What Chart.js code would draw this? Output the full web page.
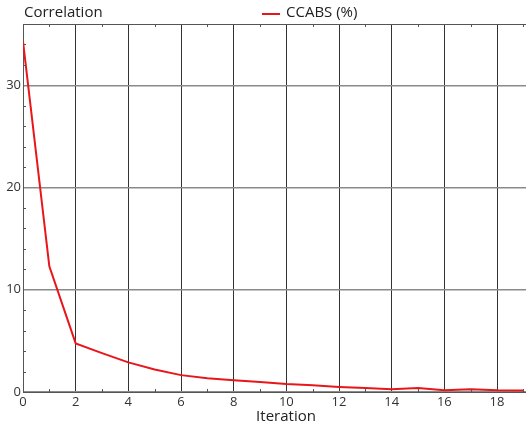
<!DOCTYPE html>
<html>
<head>
<meta charset="utf-8">
<script src="https://cdn.jsdelivr.net/npm/chart.js@4.4.1/dist/chart.umd.min.js"></script>
<style>
  html, body { margin: 0; padding: 0; background: #fff; }
  #wrap { width: 526px; height: 426px; }
</style>
</head>
<body>
<div id="wrap"><canvas id="chart" width="526" height="426"></canvas></div>
<script>
const iterations = [0, 1, 2, 3, 4, 5, 6, 7, 8, 9, 10, 11, 12, 13, 14, 15, 16, 17, 18, 19];
const ccabs = [34.3, 12.3, 4.75, 3.8, 2.9, 2.2, 1.65, 1.35, 1.15, 0.98, 0.78, 0.65, 0.5, 0.4, 0.28, 0.38, 0.18, 0.28, 0.18, 0.15];
const xTicks = [0, 2, 4, 6, 8, 10, 12, 14, 16, 18];
const yTicks = [0, 10, 20, 30];

const yTitle = "Correlation";
const xTitle = "Iteration";
const seriesName = "CCABS (%)";

const FONT = "'Open Sans', 'DejaVu Sans', sans-serif";
const RED = "#e8161b";

// title, legend, axis title and small ticks drawn on top of the chart
const decorations = {
  id: "decorations",
  afterDraw(chart) {
    const { ctx, chartArea, scales } = chart;
    const x = scales.x, y = scales.y;
    ctx.save();

    // minor ticks
    ctx.strokeStyle = "#555";
    ctx.lineWidth = 1;
    ctx.beginPath();
    for (let v = 1; v <= 19; v += 2) {
      const px = Math.round(x.getPixelForValue(v)) + 0.5;
      ctx.moveTo(px, chartArea.top);
      ctx.lineTo(px, chartArea.top + 3);
      ctx.moveTo(px, chartArea.bottom);
      ctx.lineTo(px, chartArea.bottom - 3);
    }
    for (let v = 2; v <= 34; v += 2) {
      if (v % 10 === 0) continue;
      const py = Math.round(y.getPixelForValue(v)) + 0.5;
      ctx.moveTo(chartArea.left, py);
      ctx.lineTo(chartArea.left + 3, py);
    }
    ctx.stroke();

    // y axis title, top left
    ctx.fillStyle = "#222";
    ctx.font = "15px " + FONT;
    ctx.textBaseline = "middle";
    ctx.textAlign = "left";
    ctx.fillText(yTitle, chartArea.left + 1, 13);

    // legend
    ctx.strokeStyle = RED;
    ctx.lineWidth = 2;
    ctx.beginPath();
    ctx.moveTo(262, 14);
    ctx.lineTo(280, 14);
    ctx.stroke();
    ctx.fillText(seriesName, 286, 13);

    // x axis title
    ctx.textAlign = "center";
    ctx.fillText(xTitle, 286, 417);

    ctx.restore();
  }
};

new Chart(document.getElementById("chart"), {
  type: "line",
  data: {
    labels: iterations,
    datasets: [{
      label: seriesName,
      data: iterations.map((it, i) => ({ x: it, y: ccabs[i] })),
      borderColor: RED,
      borderWidth: 2,
      pointRadius: 0,
      tension: 0,
      fill: false
    }]
  },
  options: {
    responsive: false,
    animation: false,
    layout: { padding: { top: 24, right: 0, left: 0, bottom: 0 } },
    plugins: {
      legend: { display: false },
      title: { display: false },
      tooltip: { enabled: false }
    },
    scales: {
      x: {
        type: "linear",
        min: 0,
        max: 19.1,
        afterBuildTicks(scale) {
          scale.ticks = xTicks.map(v => ({ value: v }));
        },
        afterFit(scale) { scale.height = 34; },
        ticks: {
          color: "#333",
          font: { family: FONT, size: 13 },
          padding: 2,
          maxRotation: 0,
          autoSkip: false
        },
        grid: {
          color: "#333",
          lineWidth: 1,
          drawTicks: false
        },
        border: { color: "#555", width: 1 }
      },
      y: {
        type: "linear",
        min: 0,
        max: 36,
        afterBuildTicks(scale) {
          scale.ticks = yTicks.map(v => ({ value: v }));
        },
        afterFit(scale) { scale.width = 23; },
        ticks: {
          color: "#333",
          font: { family: FONT, size: 13 },
          padding: 2
        },
        grid: {
          color: "#8a8a8a",
          lineWidth: 1.5,
          drawTicks: false
        },
        border: { color: "#555", width: 1 }
      }
    }
  },
  plugins: [decorations, {
    id: "topBorder",
    afterDraw(chart) {
      const { ctx, chartArea } = chart;
      ctx.save();
      ctx.strokeStyle = "#555";
      ctx.lineWidth = 1;
      ctx.beginPath();
      ctx.moveTo(chartArea.left, chartArea.top + 0.5);
      ctx.lineTo(chartArea.right, chartArea.top + 0.5);
      ctx.stroke();
      ctx.restore();
    }
  }]
});
</script>
</body>
</html>
